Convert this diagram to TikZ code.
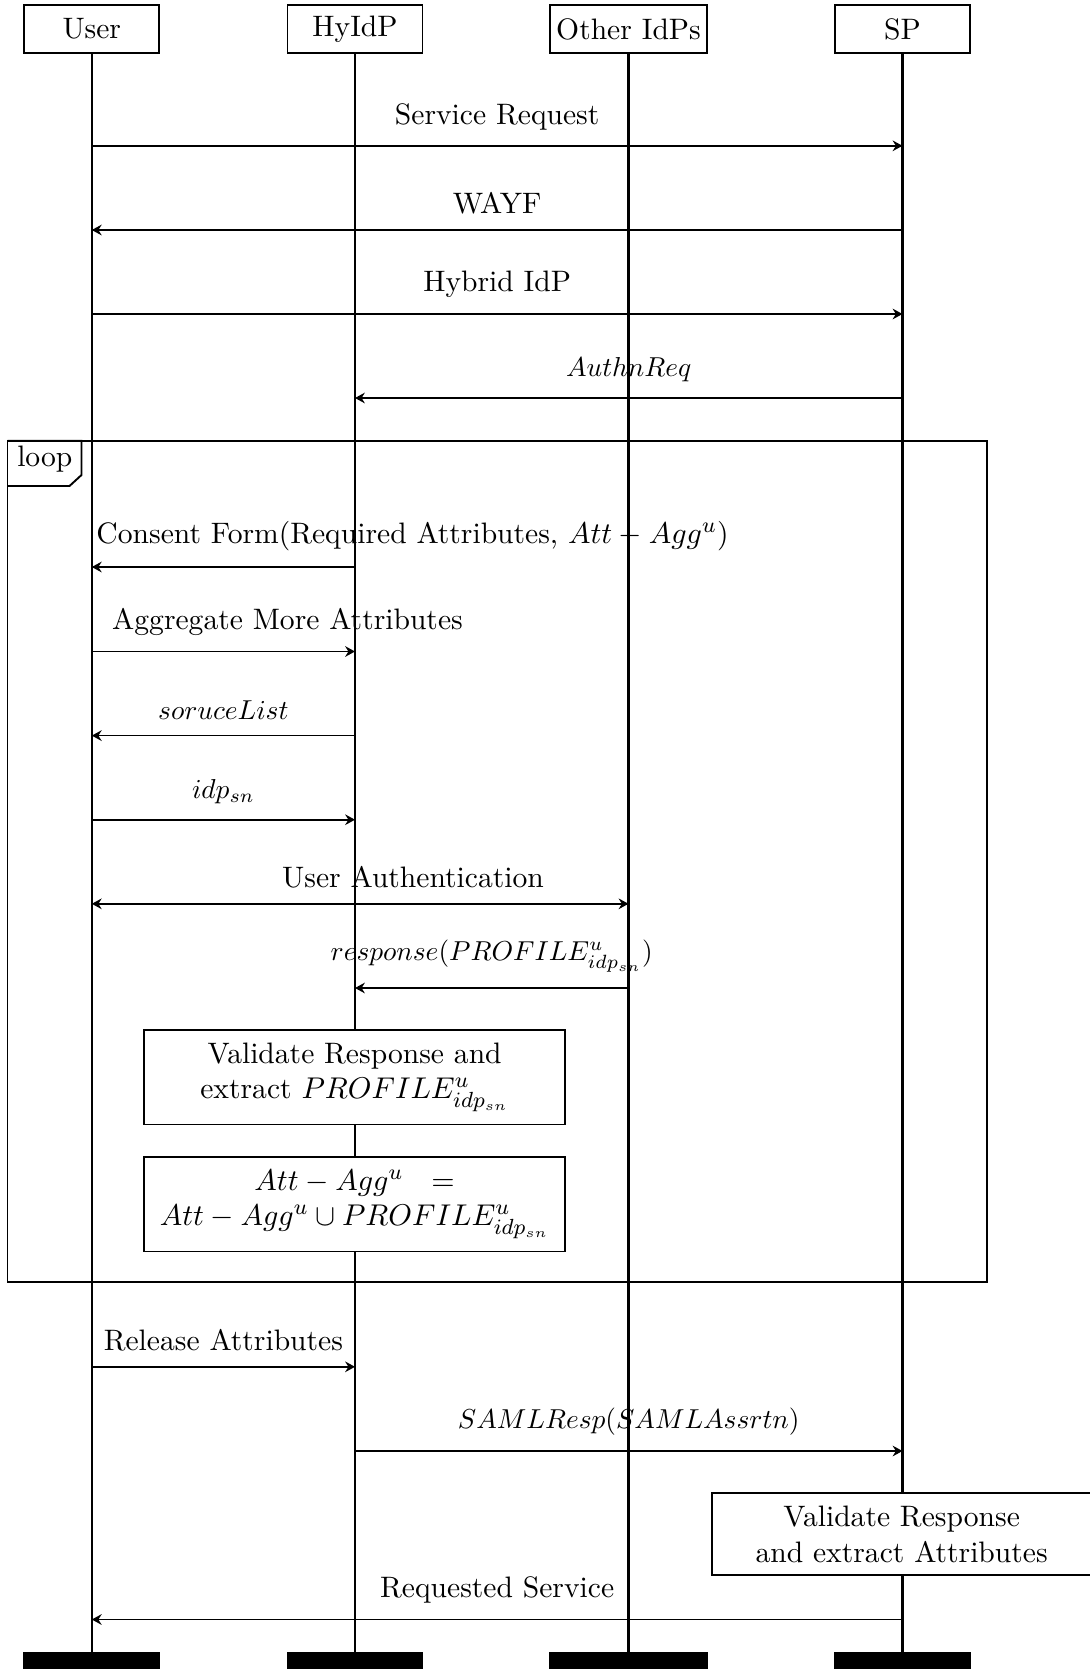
\documentclass[tikz,border=0pt]{standalone}
\usetikzlibrary{arrows.meta}
\begin{document}
\begin{tikzpicture}[x=0.365pt,y=-0.365pt,line width=0.7pt,
  font=\fontsize{10.8pt}{13pt}\selectfont,
  inst/.style={draw,fill=white,minimum width=49.3pt,minimum height=17.4pt,inner xsep=2.3pt},
  instend/.style={draw,fill=black,minimum width=49.3pt,minimum height=17.4pt},
  life/.style={line width=0.75pt},
  msg/.style={line width=0.62pt,-{Stealth[length=3.6pt,width=3.9pt,inset=1.2pt]}},
  dmsg/.style={line width=0.62pt,{Stealth[length=3.6pt,width=3.9pt,inset=1.2pt]}-{Stealth[length=3.6pt,width=3.9pt,inset=1.2pt]}},
  lbl/.style={above=2.2pt},
  mlbl/.style={above=2.2pt,font=\fontsize{9.85pt}{12pt}\selectfont},
  actbox/.style={draw,fill=white,align=center,minimum width=153.8pt,minimum height=34.5pt}]
\useasboundingbox (0,0) rectangle (1090,1669);
\clip (0,0) rectangle (1090,1669);
% instances
\node[inst] (User) at (91.8,28.9) {User};
\node[inst] (HyIdP) at (355,28.9) {HyIdP};
\node[inst] (Other) at (628.5,28.9) {Other IdPs};
\node[inst] (SP) at (902.5,28.9) {SP};
\node[instend] (UserE) at (91.8,1676.9) {};
\node[instend] (HyIdPE) at (355,1676.9) {};
\node[instend,minimum width=57.3pt] (OtherE) at (628.5,1676.9) {};
\node[instend] (SPE) at (902.5,1676.9) {};
% lifelines
\draw[life] (User.south) -- (UserE.north);
\draw[life] (HyIdP.south) -- (HyIdPE.north);
\draw[life] (Other.south) -- (OtherE.north);
\draw[life,line width=1pt] (SP.south) -- (SPE.north);
% rows
\coordinate (r1) at (0,145.8);
\coordinate (r2) at (0,230);
\coordinate (r3) at (0,314);
\coordinate (r4) at (0,398);
\coordinate (r5) at (0,567);
\coordinate (r6) at (0,651.5);
\coordinate (r7) at (0,735.6);
\coordinate (r8) at (0,819.7);
\coordinate (r9) at (0,903.8);
\coordinate (r10) at (0,988);
\coordinate (r11) at (0,1366.8);
\coordinate (r12) at (0,1451);
\coordinate (r13) at (0,1619.5);
% messages
\draw[msg] (User |- r1) -- node[lbl] (l1) {Service Request} (SP |- r1);
\draw[msg] (SP |- r2) -- node[lbl] (l2) {WAYF} (User |- r2);
\draw[msg] (User |- r3) -- node[lbl] (l3) {Hybrid IdP} (SP |- r3);
\draw[msg] (SP |- r4) -- node[mlbl] (l4) {$AuthnReq$} (HyIdP |- r4);
% loop frame
\draw (7.5,440.7) rectangle (987,1281.6);
\draw (7.5,440.7) -- (81.5,440.7) -- (81.5,475) -- (69.5,486) -- (7.5,486);
\node[anchor=base] (looplbl) at (44.8,466) {loop};
\draw[msg] (HyIdP |- r5) -- (User |- r5);
\node[lbl] (l5) at (412.5,567) {Consent Form(Required Attributes, $Att - Agg^u$)};
\draw[msg] (User |- r6) -- (HyIdP |- r6);
\node[lbl] (l6) at (287.5,651.5) {Aggregate More Attributes};
\draw[msg] (HyIdP |- r7) -- node[mlbl] (l7) {$soruceList$} (User |- r7);
\draw[msg] (User |- r8) -- node[mlbl] (l8) {$idp_{sn}$} (HyIdP |- r8);
\draw[dmsg] (User |- r9) -- (Other |- r9);
\node[lbl] (l9) at (413,903.8) {User Authentication};
\draw[msg] (Other |- r10) -- node[mlbl] (l10) {$response(PROFILE^u_{idp_{sn}})$} (HyIdP |- r10);
\node[actbox] (val1) at (354.6,1077.2) {Validate Response and\\extract $PROFILE^u_{idp_{sn}}$};
\node[actbox] (agg1) at (354.6,1204.2) {$Att - Agg^u\ \ =$\\$Att - Agg^u \cup PROFILE^u_{idp_{sn}}$};
\draw[msg] (User |- r11) -- node[lbl] (l11) {Release Attributes} (HyIdP |- r11);
\draw[msg] (HyIdP |- r12) -- node[mlbl] (l12) {$SAMLResp(SAMLAssrtn)$} (SP |- r12);
\node[draw,fill=white,align=center,minimum width=138.4pt,minimum height=29.8pt] (val2) at (901.6,1534.2) {Validate Response\\and extract Attributes};
\draw[msg] (SP |- r13) -- node[lbl] (l13) {Requested Service} (User |- r13);
\end{tikzpicture}
\end{document}
